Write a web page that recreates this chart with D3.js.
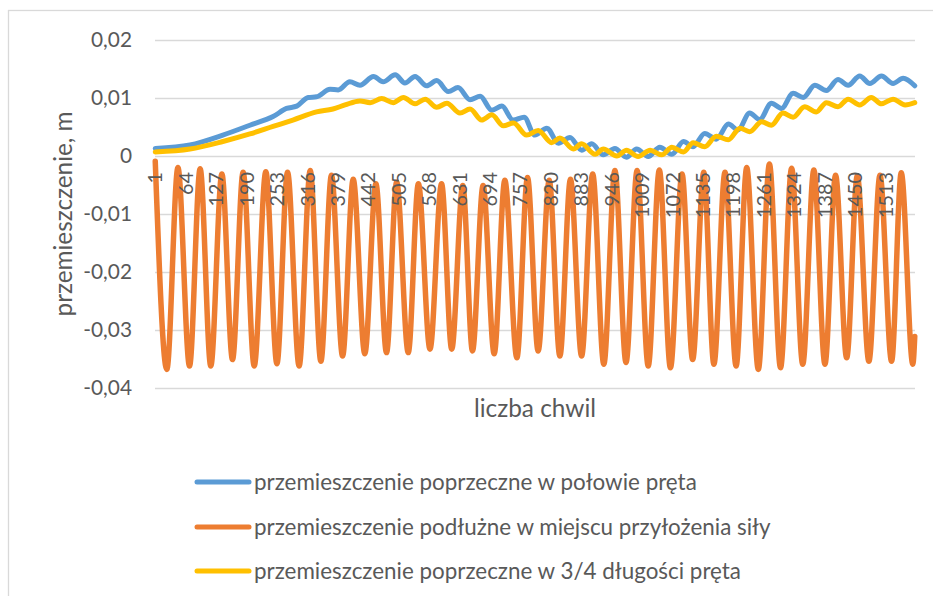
<!DOCTYPE html>
<html><head><meta charset="utf-8">
<script src="https://cdn.jsdelivr.net/npm/d3@7"></script>
<style>
body{margin:0;background:#fff;}
svg{display:block;font-family:Lato,"Open Sans",sans-serif;}
</style></head><body>
<svg id="chart" width="933" height="596"></svg>
<script>
const N = 1574;
const xTickLabels = [1,64,127,190,253,316,379,442,505,568,631,694,757,820,883,946,1009,1072,1135,1198,1261,1324,1387,1450,1513];
const yTicks = [0.02,0.01,0,-0.01,-0.02,-0.03,-0.04];
const seriesNames = [
  "przemieszczenie poprzeczne w połowie pręta",
  "przemieszczenie podłużne w miejscu przyłożenia siły",
  "przemieszczenie poprzeczne w 3/4 długości pręta"
];
const seriesColors = ["#5B9BD5","#ED7D31","#FFC000"];
const xTitle = "liczba chwil";
const yTitle = "przemieszczenie, m";

const blueIdx = [1,73,141,197,245,273,294,318,335,363,380,404,425,453,473,498,518,539,563,584,608,628,653,674,698,719,742,765,787,812,836,860,884,905,929,953,977,998,1022,1046,1071,1095,1115,1139,1163,1188,1208,1232,1253,1277,1298,1322,1343,1367,1391,1415,1436,1460,1481,1505,1529,1550,1574];
const blueVal = [0.0013,0.0019,0.0036,0.0053,0.0068,0.0082,0.0086,0.0101,0.0102,0.0115,0.0114,0.0128,0.0122,0.0137,0.0128,0.0140,0.0126,0.0137,0.0121,0.0130,0.0111,0.0118,0.0097,0.0103,0.0079,0.0086,0.0062,0.0067,0.0036,0.0048,0.0022,0.0032,0.0010,0.0021,0.0002,0.0013,-0.0002,0.0012,-0.0001,0.0015,0.0003,0.0025,0.0016,0.0039,0.0029,0.0055,0.0045,0.0074,0.0063,0.0091,0.0082,0.0108,0.0101,0.0122,0.0113,0.0132,0.0122,0.0138,0.0125,0.0138,0.0125,0.0134,0.0121];

const orangeIdx = [1,25,48,72,94,116,139,161,183,206,230,253,275,299,322,344,366,389,411,435,458,480,501,525,546,570,594,615,638,658,680,703,725,750,772,794,817,839,861,884,907,930,953,976,999,1022,1045,1068,1092,1114,1137,1158,1181,1204,1226,1250,1273,1296,1319,1342,1365,1388,1410,1433,1455,1479,1502,1526,1546,1570,1574];
const orangeVal = [-0.0009,-0.0368,-0.0020,-0.0362,-0.0022,-0.0362,-0.0031,-0.0351,-0.0028,-0.0362,-0.0027,-0.0358,-0.0028,-0.0362,-0.0025,-0.0354,-0.0033,-0.0345,-0.0040,-0.0341,-0.0048,-0.0339,-0.0045,-0.0339,-0.0048,-0.0333,-0.0048,-0.0333,-0.0051,-0.0336,-0.0051,-0.0341,-0.0042,-0.0348,-0.0037,-0.0336,-0.0042,-0.0345,-0.0040,-0.0345,-0.0031,-0.0359,-0.0025,-0.0356,-0.0025,-0.0362,-0.0024,-0.0365,-0.0031,-0.0351,-0.0028,-0.0359,-0.0028,-0.0362,-0.0020,-0.0368,-0.0014,-0.0365,-0.0021,-0.0359,-0.0024,-0.0359,-0.0033,-0.0348,-0.0034,-0.0354,-0.0033,-0.0354,-0.0029,-0.0359,-0.0311];

const yellowIdx = [1,73,141,197,245,286,335,369,394,425,446,470,494,515,539,560,584,605,632,653,677,698,722,743,770,794,822,839,867,884,912,929,957,977,1001,1026,1050,1071,1095,1115,1139,1163,1188,1212,1232,1257,1277,1301,1322,1346,1370,1391,1415,1436,1460,1484,1505,1529,1554,1574];
const yellowVal = [0.0007,0.0012,0.0025,0.0038,0.0051,0.0062,0.0076,0.0081,0.0088,0.0095,0.0092,0.0099,0.0092,0.0101,0.0090,0.0098,0.0084,0.0091,0.0074,0.0081,0.0062,0.0071,0.0052,0.0057,0.0036,0.0044,0.0023,0.0031,0.0012,0.0021,0.0003,0.0012,0.0000,0.0010,-0.0001,0.0010,0.0002,0.0015,0.0007,0.0023,0.0016,0.0034,0.0028,0.0048,0.0042,0.0059,0.0053,0.0074,0.0067,0.0085,0.0076,0.0092,0.0085,0.0098,0.0088,0.0101,0.0090,0.0098,0.0088,0.0092];

const series = [
  {name: seriesNames[0], color: seriesColors[0], w: 5, pts: blueIdx.map((c,k)=>[c, blueVal[k]])},
  {name: seriesNames[1], color: seriesColors[1], w: 5.5, pts: orangeIdx.map((c,k)=>[c, orangeVal[k]])},
  {name: seriesNames[2], color: seriesColors[2], w: 5, pts: yellowIdx.map((c,k)=>[c, yellowVal[k]])}
];

const svg = d3.select("#chart");
const L = 155, R = 915, T = 40, B = 388;
const FONT = 21, TXT = "#595959", GRID = "#d9d9d9";

// scale a text's font so its rendered width matches a target width
function fitWidth(sel, target) {
  const node = sel.node();
  const w = node.getComputedTextLength();
  const fs = parseFloat(sel.attr("font-size"));
  if (w > 0) sel.attr("font-size", (fs * target / w).toFixed(2));
  return parseFloat(sel.attr("font-size"));
}

const categories = d3.range(1, N + 1);
const x = d3.scaleBand().domain(categories).range([L, R]).padding(0);
const cx = c => x(c) + x.bandwidth() / 2;
const y = d3.scaleLinear().domain([-0.04, 0.02]).range([B, T]);

const loc = d3.formatLocale({decimal: ",", thousands: " ", grouping: [3], currency: ["", ""], minus: "-"});
const f2 = loc.format(".2f");
const yFmt = v => v === 0 ? "0" : f2(v);

// frame
svg.append("rect").attr("x", 8.5).attr("y", 10.5).attr("width", 1000).attr("height", 1000)
  .attr("fill", "none").attr("stroke", GRID).attr("stroke-width", 1.3);

// gridlines
const grid = svg.append("g").attr("transform", `translate(${L},0)`)
  .call(d3.axisLeft(y).tickValues(yTicks).tickSize(-(R - L)).tickFormat(""));
grid.select(".domain").remove();
grid.selectAll("line").attr("stroke", GRID).attr("stroke-width", 1.5);

// series
const line = d3.line().x(d => cx(d[0])).y(d => y(d[1])).curve(d3.curveMonotoneX);
svg.append("g").selectAll("path").data(series).join("path")
  .attr("d", d => line(d.pts))
  .attr("fill", "none").attr("stroke", d => d.color).attr("stroke-width", d => d.w)
  .attr("stroke-linejoin", "round").attr("stroke-linecap", "round");

// y axis labels
const ya = svg.append("g").attr("transform", `translate(${L},0)`)
  .call(d3.axisLeft(y).tickValues(yTicks).tickSize(0).tickPadding(23).tickFormat(yFmt));
ya.select(".domain").remove();
ya.selectAll("text").attr("font-size", FONT).attr("fill", TXT).attr("font-family", "Lato");
const yfs = fitWidth(ya.selectAll("text").filter(d => d === 0.02), 41);
ya.selectAll("text").attr("font-size", yfs);

// x axis labels
const xa = svg.append("g").attr("transform", `translate(0,${y(0)})`)
  .call(d3.axisBottom(x).tickValues(xTickLabels).tickSize(0));
xa.select(".domain").remove();
xa.selectAll("text").attr("font-size", FONT).attr("fill", TXT).attr("font-family", "Lato")
  .attr("text-anchor", "end").attr("transform", "rotate(-90)")
  .attr("x", -16).attr("y", 0).attr("dy", "0.35em");
const xfs = fitWidth(xa.selectAll("text").filter(d => d === 1009), 46);
xa.selectAll("text").attr("font-size", xfs);

// titles
const xt = svg.append("text").attr("x", (L + R) / 2).attr("y", 417).attr("text-anchor", "middle")
  .attr("font-size", FONT).attr("fill", TXT).text(xTitle);
fitWidth(xt, 122);
const yt = svg.append("text").attr("transform", `translate(63,${(T + B) / 2}) rotate(-90)`)
  .attr("text-anchor", "middle").attr("dy", "0.35em")
  .attr("font-size", FONT).attr("fill", TXT).text(yTitle);
fitWidth(yt, 205);

// legend
const legY = [482, 527, 571];
const lg = svg.append("g").selectAll("g").data(series).join("g")
  .attr("transform", (d, i) => `translate(0,${legY[i]})`);
lg.append("line").attr("x1", 197).attr("x2", 249).attr("y1", 0).attr("y2", 0)
  .attr("stroke", d => d.color).attr("stroke-width", 5).attr("stroke-linecap", "round");
const lt = lg.append("text").attr("x", 254).attr("dy", "0.35em").attr("font-size", FONT)
  .attr("fill", TXT).text(d => d.name);
const lfs = fitWidth(d3.select(lt.nodes()[0]), 443);
lt.attr("font-size", lfs);
</script>
</body></html>
